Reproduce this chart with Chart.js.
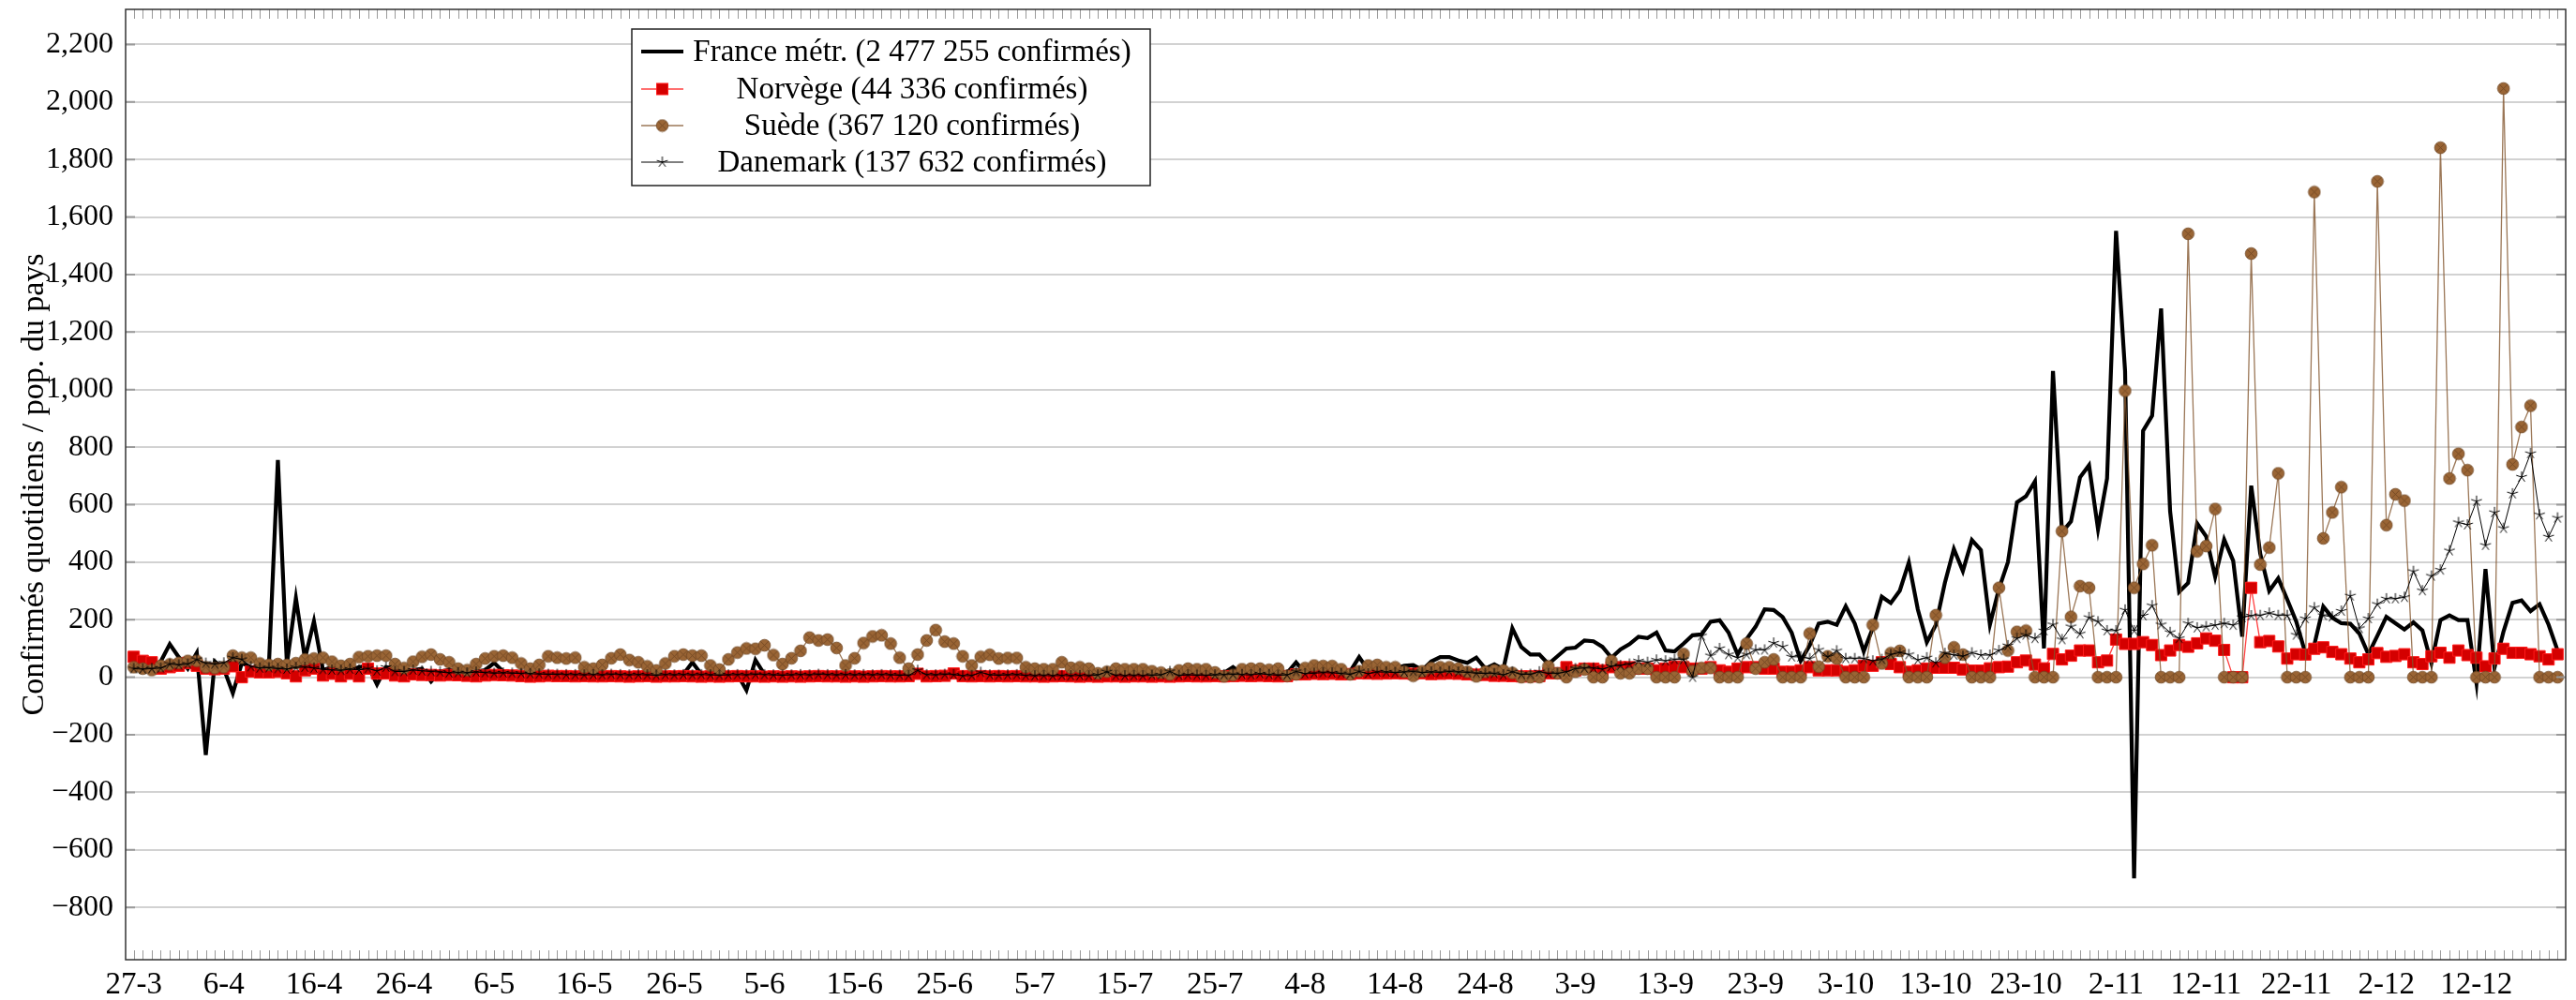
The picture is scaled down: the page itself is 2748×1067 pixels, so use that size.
<!DOCTYPE html>
<html lang="fr">
<head>
<meta charset="UTF-8">
<title>Confirmés quotidiens / pop. du pays</title>
<script src="https://cdn.jsdelivr.net/npm/chart.js"></script>
<style>
    html, body { margin: 0; padding: 0; background: #fff; }
    #wrap { width: 2748px; height: 1067px; }
</style>
</head>
<body>
<div id="wrap"><canvas id="chart" width="2748" height="1067"></canvas></div>
<script>
// jours depuis le 27-3 (index = jour)
const france = [
    45, 65, 35, 55, 115, 70, 30, 85, -270, 55,
    30, -55, 50, 35, 30, 40, 755, 45, 275, 65,
    195, 25, 35, 30, 25, 35, 40, -25, 35, 30,
    20, 25, 30, -15, 20, 25, 20, 15, 20, 25,
    50, 20, 15, 20, 15, 10, 15, 12, 12, 10,
    10, 12, 8, 10, 12, 10, 8, 10, 12, 10,
    8, 10, 52, 10, 8, 10, 12, 10, -45, 60,
    10, 8, 10, 12, 10, 8, 10, 12, 10, 8,
    10, 8, 12, 10, 8, 10, 12, 10, 8, 10,
    8, 10, 12, 10, 8, 10, 8, 10, 12, 10,
    8, 10, 8, 10, 12, 10, 8, 10, 8, 10,
    10, 8, 10, 12, 10, 8, 10, 10, 8, 10,
    12, 15, 35, 12, 10, 12, 15, 12, 15, 52,
    15, 18, 20, 18, 15, 20, 70, 25, 22, 20,
    30, 40, 42, 25, 55, 70, 70, 58, 50, 68,
    30, 45, 28, 170, 105, 79, 79, 46, 73, 100,
    103, 128, 125, 106, 68, 97, 115, 141, 136, 155,
    93, 90, 117, 146, 149, 193, 198, 155, 79, 133,
    176, 236, 234, 209, 155, 57, 111, 187, 193, 182,
    247, 187, 90, 171, 280, 258, 301, 399, 236, 122,
    182, 328, 446, 369, 477, 442, 183, 307, 400, 608,
    629, 681, 100, 1065, 504, 542, 695, 737, 515, 691,
    1552, 1065, -699, 857, 909, 1282, 577, 297, 328, 535,
    490, 349, 479, 405, 141, 666, 430, 300, 344, 270,
    194, 84, 112, 246, 207, 188, 186, 152, 80, 144,
    210, 188, 166, 191, 163, 49, 199, 215, 199, 199,
    -20, 376, 33, 159, 259, 267, 230, 254, 183, 93
];

const norvege = [
    71, 57, 52, 30, 35, 40, 50, 40, 30, 28,
    30, 38, 0, 20, 17, 17, 19, 14, 3, 24,
    30, 6, 12, 3, 12, 3, 30, 13, 13, 6,
    3, 10, 8, 8, 6, 8, 7, 5, 3, 6,
    8, 7, 6, 4, 2, 3, 5, 4, 4, 3,
    4, 3, 3, 4, 3, 2, 3, 4, 2, 3,
    3, 4, 3, 2, 3, 2, 3, 4, 3, 3,
    2, 3, 2, 3, 2, 3, 4, 3, 3, 2,
    3, 2, 3, 4, 3, 3, 4, 12, 3, 4,
    5, 13, 4, 3, 4, 3, 4, 3, 4, 3,
    3, 2, 3, 4, 3, 2, 3, 2, 3, 3,
    2, 3, 3, 2, 3, 2, 3, 4, 3, 3,
    4, 3, 4, 5, 4, 5, 4, 3, 4, 10,
    10, 12, 11, 12, 10, 11, 14, 13, 12, 13,
    14, 13, 12, 14, 11, 12, 13, 12, 10, 9,
    8, 5, 5, 4, 3, 3, 4, 14, 14, 35,
    24, 30, 30, 24, 35, 35, 35, 30, 30, 24,
    30, 37, 35, 30, 30, 35, 24, 19, 30, 35,
    35, 30, 30, 19, 19, 24, 35, 24, 24, 24,
    19, 24, 40, 40, 52, 46, 35, 19, 24, 30,
    33, 33, 33, 27, 23, 23, 31, 35, 37, 52,
    58, 44, 31, 81, 62, 75, 93, 93, 52, 58,
    131, 116, 116, 122, 112, 77, 93, 112, 106, 118,
    135, 127, 95, 0, 0, 311, 122, 126, 107, 65,
    80, 79, 99, 104, 88, 80, 65, 52, 62, 84,
    71, 74, 80, 52, 46, 73, 85, 68, 93, 77,
    68, 38, 65, 99, 85, 85, 80, 73, 62, 80
];

const suede = [
    35, 30, 25, 40, 45, 50, 57, 57, 35, 32,
    35, 75, 68, 68, 48, 43, 46, 43, 49, 62,
    65, 68, 54, 40, 46, 70, 73, 75, 75, 46,
    32, 54, 71, 79, 62, 52, 30, 25, 46, 65,
    73, 75, 68, 48, 30, 43, 73, 68, 65, 68,
    35, 30, 43, 66, 79, 60, 52, 38, 24, 48,
    73, 79, 75, 75, 41, 27, 62, 86, 100, 99,
    111, 77, 46, 66, 92, 138, 128, 131, 102, 41,
    66, 119, 142, 146, 117, 68, 30, 79, 128, 164,
    124, 117, 73, 41, 71, 78, 65, 67, 67, 35,
    30, 28, 28, 52, 33, 35, 30, 14, 19, 30,
    28, 28, 28, 21, 16, 10, 24, 30, 28, 28,
    17, 3, 8, 28, 30, 30, 26, 30, 5, 10,
    32, 41, 39, 39, 28, 10, 21, 41, 43, 35,
    35, 19, 5, 21, 32, 35, 35, 30, 19, 3,
    19, 24, 24, 15, 0, 0, 0, 38, 14, 0,
    19, 27, 0, 0, 57, 14, 14, 30, 30, 0,
    0, 0, 81, 21, 32, 32, 0, 0, 0, 117,
    30, 52, 62, 0, 0, 0, 152, 37, 73, 65,
    0, 0, 0, 182, 48, 84, 92, 0, 0, 0,
    216, 68, 104, 79, 0, 0, 0, 311, 93, 158,
    162, 0, 0, 0, 508, 210, 317, 311, 0, 0,
    0, 996, 311, 394, 459, 0, 0, 0, 1542, 438,
    456, 585, 0, 0, 0, 1473, 392, 451, 709, 0,
    0, 0, 1687, 483, 573, 661, 0, 0, 0, 1724,
    529, 636, 614, 0, 0, 0, 1841, 691, 777, 720,
    0, 0, 0, 2047, 740, 870, 944, 0, 0, 0
];

const danemark = [
    30, 28, 30, 32, 46, 43, 46, 62, 49, 46,
    50, 68, 62, 37, 32, 33, 30, 28, 34, 35,
    32, 27, 25, 24, 28, 25, 30, 22, 35, 20,
    20, 25, 22, 20, 18, 15, 16, 15, 18, 16,
    14, 15, 14, 13, 12, 11, 10, 10, 9, 9,
    8, 9, 8, 10, 9, 8, 9, 8, 7, 9,
    8, 9, 8, 9, 8, 7, 8, 9, 8, 10,
    9, 8, 7, 8, 9, 8, 10, 9, 8, 9,
    8, 9, 8, 9, 8, 7, 6, 24, 9, 8,
    10, 9, 5, 6, 17, 8, 7, 8, 9, 6,
    5, 6, 5, 6, 5, 6, 5, 8, 19, 6,
    5, 6, 5, 7, 8, 20, 6, 8, 7, 6,
    8, 9, 10, 9, 8, 12, 9, 7, 8, 20,
    12, 14, 16, 15, 13, 10, 20, 12, 18, 18,
    16, 18, 20, 16, 18, 17, 20, 18, 17, 14,
    13, 13, 8, 19, 10, 10, 19, 13, 13, 19,
    30, 32, 32, 28, 38, 41, 46, 57, 52, 60,
    57, 62, 62, 0, 144, 75, 100, 79, 68, 79,
    95, 95, 119, 106, 71, 71, 65, 95, 71, 92,
    65, 65, 65, 57, 62, 79, 86, 79, 60, 68,
    50, 83, 77, 73, 85, 77, 77, 93, 110, 135,
    147, 135, 162, 183, 131, 176, 151, 208, 193, 162,
    162, 234, 162, 214, 249, 183, 156, 135, 187, 172,
    176, 181, 187, 181, 208, 214, 215, 223, 215, 215,
    147, 204, 242, 215, 210, 230, 283, 170, 204, 254,
    273, 273, 278, 368, 301, 352, 373, 440, 538, 530,
    612, 459, 573, 518, 638, 696, 778, 565, 488, 554
];

const tickDays = [0, 10, 20, 30, 40, 50, 60, 70, 80, 90, 100, 110, 120, 130,
                  140, 150, 160, 170, 180, 190, 200, 210, 220, 230, 240, 250, 260];
const tickLabels = ['27-3', '6-4', '16-4', '26-4', '6-5', '16-5', '26-5', '5-6', '15-6',
                    '25-6', '5-7', '15-7', '25-7', '4-8', '14-8', '24-8', '3-9', '13-9',
                    '23-9', '3-10', '13-10', '23-10', '2-11', '12-11', '22-11', '2-12', '12-12'];
const yTicks = [-800, -600, -400, -200, 0, 200, 400, 600, 800, 1000,
                1200, 1400, 1600, 1800, 2000, 2200];

const serif = '"Liberation Serif", "DejaVu Serif", serif';

// marqueurs façon pgfplots
function circleMark(r) {
    const s = Math.ceil(r * 2 + 2);
    const c = document.createElement('canvas');
    c.width = c.height = s;
    const g = c.getContext('2d');
    const m = s / 2;
    g.beginPath();
    g.arc(m, m, r, 0, Math.PI * 2);
    g.fillStyle = '#9a6535';
    g.fill();
    g.lineWidth = 0.8;
    g.strokeStyle = '#6e4522';
    g.stroke();
    const d = r * Math.SQRT1_2;
    g.beginPath();
    g.moveTo(m - d, m - d); g.lineTo(m + d, m + d);
    g.moveTo(m - d, m + d); g.lineTo(m + d, m - d);
    g.stroke();
    return c;
}

function starMark(r) {
    const s = Math.ceil(r * 2 + 2);
    const c = document.createElement('canvas');
    c.width = c.height = s;
    const g = c.getContext('2d');
    const m = s / 2;
    g.strokeStyle = '#000';
    g.lineWidth = 1;
    g.beginPath();
    for (let k = 0; k < 5; k++) {
        const a = -Math.PI / 2 + k * 2 * Math.PI / 5;
        g.moveTo(m, m);
        g.lineTo(m + r * Math.cos(a), m + r * Math.sin(a));
    }
    g.stroke();
    return c;
}

const seMark = circleMark(6.3);
const dkMark = starMark(6);

const toXY = arr => arr.map((v, i) => ({ x: i, y: v }));

const series = [
    { label: 'France métr. (2 477 255 confirmés)', data: toXY(france), order: 4,
      borderColor: '#000', borderWidth: 4.2, pointRadius: 0 },
    { label: 'Norvège (44 336 confirmés)', data: toXY(norvege), order: 3,
      borderColor: 'rgba(255,0,0,0.75)', borderWidth: 1.3,
      pointStyle: 'rect', pointRadius: 8.5,
      pointBackgroundColor: '#d40000', pointBorderColor: '#ff1a1a', pointBorderWidth: 1 },
    { label: 'Suède (367 120 confirmés)', data: toXY(suede), order: 2,
      borderColor: 'rgba(130,85,45,0.8)', borderWidth: 1.3,
      pointStyle: seMark, pointRadius: 5 },
    { label: 'Danemark (137 632 confirmés)', data: toXY(danemark), order: 1,
      borderColor: '#000', borderWidth: 1,
      pointStyle: dkMark, pointRadius: 5 }
];

const frame = {
    id: 'frame',
    afterDatasetsDraw(chart) {
        const { ctx, chartArea: a, scales: { x, y } } = chart;
        ctx.save();
        ctx.strokeStyle = '#9a9a9a';
        ctx.lineWidth = 1;
        ctx.beginPath();
        for (let d = 0; d < france.length; d++) {
            const px = Math.round(x.getPixelForValue(d)) + 0.5;
            ctx.moveTo(px, a.bottom); ctx.lineTo(px, a.bottom - 10);
            ctx.moveTo(px, a.top); ctx.lineTo(px, a.top + 10);
        }
        ctx.stroke();
        ctx.lineWidth = 2;
        ctx.beginPath();
        yTicks.forEach(v => {
            const py = y.getPixelForValue(v);
            ctx.moveTo(a.left, py); ctx.lineTo(a.left + 10, py);
            ctx.moveTo(a.right, py); ctx.lineTo(a.right - 10, py);
        });
        ctx.stroke();
        ctx.strokeStyle = '#333';
        ctx.lineWidth = 1.5;
        ctx.strokeRect(a.left, a.top, a.right - a.left, a.bottom - a.top);
        ctx.restore();
    }
};

// légende encadrée, texte centré comme pgfplots
const legendBox = {
    id: 'legendBox',
    afterDraw(chart) {
        const ctx = chart.ctx;
        const box = { x: 674, y: 31, w: 553, h: 167 };
        const rows = [55, 95, 134, 173];
        ctx.save();
        ctx.fillStyle = '#fff';
        ctx.fillRect(box.x, box.y, box.w, box.h);
        ctx.strokeStyle = '#222';
        ctx.lineWidth = 1.5;
        ctx.strokeRect(box.x, box.y, box.w, box.h);
        series.forEach((s, i) => {
            const yy = rows[i];
            ctx.beginPath();
            ctx.strokeStyle = s.borderColor;
            ctx.lineWidth = s.borderWidth;
            ctx.moveTo(684, yy); ctx.lineTo(729, yy);
            ctx.stroke();
            if (s.pointStyle === 'rect') {
                ctx.fillStyle = s.pointBackgroundColor;
                ctx.strokeStyle = s.pointBorderColor;
                ctx.lineWidth = 1;
                ctx.fillRect(700.5, yy - 6, 12, 12);
                ctx.strokeRect(700.5, yy - 6, 12, 12);
            } else if (s.pointStyle) {
                const m = s.pointStyle;
                ctx.drawImage(m, 706.5 - m.width / 2, yy - m.height / 2);
            }
            ctx.fillStyle = '#000';
            ctx.font = '33px ' + serif;
            ctx.textAlign = 'center';
            ctx.textBaseline = 'middle';
            ctx.fillText(s.label, 973, yy + 1);
        });
        ctx.restore();
    }
};

new Chart(document.getElementById('chart'), {
    type: 'line',
    data: { datasets: series },
    options: {
        responsive: false,
        devicePixelRatio: 1,
        animation: false,
        layout: { padding: { top: 10, right: 11, left: 0, bottom: 0 } },
        plugins: { legend: { display: false }, tooltip: { enabled: false } },
        scales: {
            x: {
                type: 'linear',
                min: -0.9,
                max: 269.9,
                afterBuildTicks: s => { s.ticks = tickDays.map(v => ({ value: v })); },
                afterFit: s => { s.height = 43; s.paddingLeft = 0; s.paddingRight = 0; },
                grid: { display: false },
                border: { display: false },
                ticks: {
                    autoSkip: false,
                    maxRotation: 0,
                    padding: 0,
                    color: '#000',
                    font: { family: serif, size: 33 },
                    callback: (v, i) => tickLabels[i]
                }
            },
            y: {
                min: -982,
                max: 2322,
                afterBuildTicks: s => { s.ticks = yTicks.map(v => ({ value: v })); },
                afterFit: s => { s.width = 134; s.paddingTop = 0; s.paddingBottom = 0; },
                grid: { color: '#d2d2d2', lineWidth: 2, drawTicks: false },
                border: { display: false },
                ticks: {
                    padding: 13,
                    color: '#000',
                    font: { family: serif, size: 32 },
                    callback: v => (v < 0 ? '\u2212' : '') + Math.abs(v).toLocaleString('en-US')
                },
                title: {
                    display: true,
                    text: 'Confirmés quotidiens / pop. du pays',
                    color: '#000',
                    font: { family: serif, size: 34 },
                    padding: { top: 17, bottom: 0 }
                }
            }
        }
    },
    plugins: [frame, legendBox]
});
</script>
</body>
</html>
